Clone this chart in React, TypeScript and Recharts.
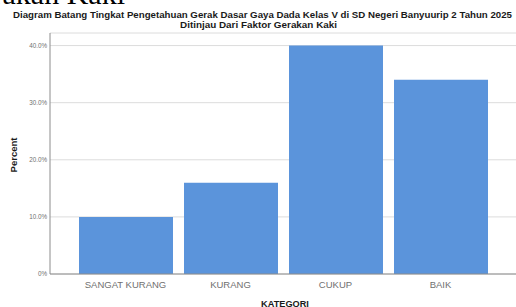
import React from 'react';
import { BarChart, Bar, XAxis, YAxis, CartesianGrid } from 'recharts';

const categories = ['SANGAT KURANG', 'KURANG', 'CUKUP', 'BAIK'];
const percents = [10.0, 16.0, 40.0, 34.0];
const yTicks = [0, 10, 20, 30, 40];
const titleLine1 = 'Diagram Batang Tingkat Pengetahuan Gerak Dasar Gaya Dada Kelas V di SD Negeri Banyuurip 2 Tahun 2025';
const titleLine2 = 'Ditinjau Dari Faktor Gerakan Kaki';
const xTitle = 'KATEGORI';
const yTitle = 'Percent';
const headerFragment = 'Gerakan Kaki';

const data = categories.map((c, i) => ({ category: c, percent: percents[i] }));

const fmt = (v: number) => (v === 0 ? '0%' : v.toFixed(1) + '%');

export default function App() {
  return (
    <div style={{ position: 'absolute', left: 0, top: 0, width: 516, height: 307, background: '#fff', overflow: 'hidden' }}>
      <BarChart
        width={516}
        height={307}
        data={data}
        margin={{ top: 33, right: 0, left: 0, bottom: 0 }}
        barSize={94}
      >
        <CartesianGrid vertical={false} stroke="#dcdcdc" strokeWidth={1} />
        <XAxis
          dataKey="category"
          padding={{ left: 23, right: 23 }}
          tickLine={false}
          axisLine={{ stroke: '#8c8c8c' }}
          tick={{ fontSize: 9.5, fill: '#707070', fontFamily: 'Liberation Sans, Arial, sans-serif' }}
          tickMargin={1}
          height={33}
          interval={0}
        />
        <YAxis
          type="number"
          domain={[0, 42.2]}
          ticks={yTicks}
          tickFormatter={fmt}
          width={50}
          tickLine={false}
          tickSize={0}
          tickMargin={3}
          axisLine={{ stroke: '#8c8c8c' }}
          tick={{ fontSize: 6.3, fill: '#707070', fontFamily: 'Liberation Sans, Arial, sans-serif' }}
        />
        <Bar dataKey="percent" fill="#5b94db" isAnimationActive={false} />
      </BarChart>
      <svg
        width={516}
        height={307}
        style={{ position: 'absolute', left: 0, top: 0, pointerEvents: 'none' }}
      >
        <text x={125} y={3.5} textAnchor="end" fontFamily="Liberation Serif, Times New Roman, serif" fontSize={30} fill="#000">
          {headerFragment}
        </text>
        <text x={262.5} y={18} textAnchor="middle" fontFamily="Liberation Sans, Arial, sans-serif" fontWeight={700} fontSize={9.3} fill="#1a1a1a" textLength={499} lengthAdjust="spacingAndGlyphs">
          {titleLine1}
        </text>
        <text x={258.5} y={28} textAnchor="middle" fontFamily="Liberation Sans, Arial, sans-serif" fontWeight={700} fontSize={9.3} fill="#1a1a1a" textLength={157} lengthAdjust="spacingAndGlyphs">
          {titleLine2}
        </text>
        <text x={285} y={306.5} textAnchor="middle" fontFamily="Liberation Sans, Arial, sans-serif" fontWeight={700} fontSize={9.2} fill="#1a1a1a">
          {xTitle}
        </text>
        <text
          x={17}
          y={155}
          textAnchor="middle"
          fontFamily="Liberation Sans, Arial, sans-serif"
          fontWeight={700}
          fontSize={9.5}
          fill="#1a1a1a"
          transform="rotate(-90 17 155)"
        >
          {yTitle}
        </text>
      </svg>
    </div>
  );
}
